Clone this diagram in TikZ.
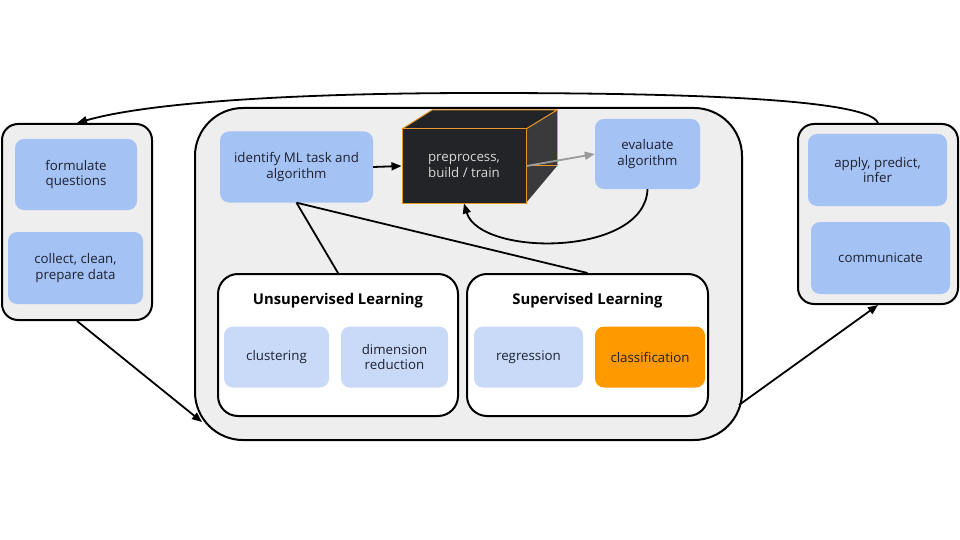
\documentclass[tikz,border=0pt]{standalone}
\usepackage{fontspec}
\setmainfont{Open Sans}
\usetikzlibrary{arrows.meta}
\definecolor{panel}{HTML}{EEEEEE}
\definecolor{blueA}{HTML}{A4C2F4}
\definecolor{blueB}{HTML}{C9DAF8}
\definecolor{orng}{HTML}{FF9900}
\definecolor{txt}{HTML}{1E2130}
\definecolor{cubedark}{HTML}{222427}
\definecolor{cubeside}{HTML}{3A3A3C}
\definecolor{cubeedge}{HTML}{E8962A}
\definecolor{greyarrow}{HTML}{9A9A9A}
\begin{document}
\begin{tikzpicture}[x=1pt,y=-1pt,
  panelbox/.style={draw=black, line width=2pt, fill=panel, rounded corners=16pt, inner sep=0pt},
  mainbox/.style={draw=black, line width=2pt, fill=panel, rounded corners=48pt, inner sep=0pt},
  groupbox/.style={draw=black, line width=2pt, fill=white, rounded corners=20pt, inner sep=0pt},
  taskbox/.style={fill=blueA, rounded corners=9pt, inner sep=0pt, align=center, text=txt,
    font=\fontsize{13.3}{15.6}\selectfont},
  subbox/.style={taskbox, fill=blueB},
  hibox/.style={taskbox, fill=orng},
  grouptitle/.style={font=\bfseries\fontsize{14.8}{17}\selectfont, text=black, inner sep=0pt},
  conn/.style={line width=1.8pt, draw=black},
  arr/.style={conn, -{Triangle[length=10pt,width=8pt]}},
  greyarr/.style={line width=1.8pt, draw=greyarrow, -{Triangle[length=10pt,width=8pt]}},
  cubeline/.style={draw=cubeedge, line width=1pt, line join=round}
]
\useasboundingbox (0,0) rectangle (960,540);

% left panel
\node[panelbox, minimum width=150pt, minimum height=196pt] (left) at (77,222) {};
\node[taskbox, minimum width=122pt, minimum height=71pt] (formulate) at (76,174.5) {formulate\\questions};
\node[taskbox, minimum width=135pt, minimum height=72pt] (collect) at (75.5,268) {collect, clean,\\prepare data};

% main panel
\node[mainbox, minimum width=547pt, minimum height=332pt] (main) at (468.5,274) {};
\node[taskbox, minimum width=153pt, minimum height=71pt] (identify) at (296.5,167) {identify ML task and\\algorithm};
\node[taskbox, minimum width=105pt, minimum height=70pt] (evaluate) at (647.5,154) {evaluate\\algorithm};

% cube
\fill[cubeside] (526,129) -- (557,110) -- (557,166) -- (526,203) -- cycle;
\fill[cubedark] (402,129) -- (432,110) -- (557,110) -- (526,129) -- cycle;
\draw[cubeline] (402,129) -- (432,110) -- (557,110) -- (526,129);
\draw[cubeline] (557,110) -- (557,166) -- (526,166);
\node[fill=cubedark, draw=cubeedge, line width=1pt, minimum width=124pt, minimum height=74pt,
  inner sep=0pt, align=center, text=white!85!black, font=\fontsize{13.3}{15.6}\selectfont]
  (cube) at (464,166) {preprocess,\\build / train};

% groups
\node[groupbox, minimum width=240pt, minimum height=142pt] (unsup) at (338,345) {};
\node[grouptitle] (unsuptitle) at (338,300.5) {Unsupervised Learning};
\node[subbox, minimum width=105pt, minimum height=61pt] (clustering) at (276.5,357) {clustering};
\node[subbox, minimum width=107pt, minimum height=61pt] (dimred) at (394.5,357) {dimension\\reduction};

\node[groupbox, minimum width=241pt, minimum height=142pt] (sup) at (587.5,345) {};
\node[grouptitle] (suptitle) at (587.5,300.5) {Supervised Learning};
\node[subbox, minimum width=109pt, minimum height=61pt] (regression) at (528.5,357) {regression};
\node[hibox, minimum width=110pt, minimum height=61pt] (classification) at (650,357) {classification};

% right panel
\node[panelbox, minimum width=160pt, minimum height=180pt] (right) at (878,214) {};
\node[taskbox, minimum width=139pt, minimum height=72pt] (apply) at (877.5,170) {apply, predict,\\infer};
\node[taskbox, minimum width=139pt, minimum height=72pt] (communicate) at (880.5,258) {communicate};

% connectors
\coordinate (mainin) at (202,422);
\coordinate (mainout) at (739,405);
\draw[arr] (left.south) -- (mainin);
\draw[arr] (mainout) -- (right.south);
\draw[arr] (right.north) .. controls (868,96) and (640,93) .. (480,93)
  .. controls (300,93) and (150,102) .. (left.north);
\draw[arr] (identify.east) -- (cube.west);
\draw[greyarr] (cube.east) -- (evaluate.west);
\draw[arr] (evaluate.south) .. controls (645,257) and (480,257) .. (cube.south);
\draw[conn] (identify.south) -- (unsup.north);
\draw[conn] (identify.south) -- (sup.north);
\end{tikzpicture}
\end{document}
